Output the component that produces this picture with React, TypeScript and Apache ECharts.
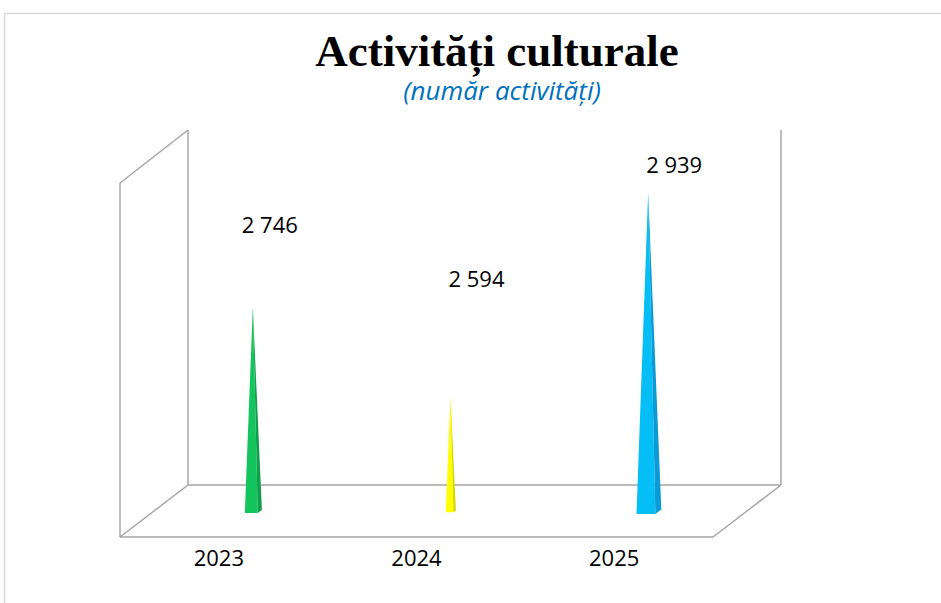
import React, { useEffect, useRef } from "react";
import * as echarts from "echarts";

const TITLE = "Activități culturale";
const SUBTITLE = "(număr activități)";
const CATEGORIES = ["2023", "2024", "2025"];
const VALUES = [2746, 2594, 2939];
const FRONT_COLORS = ["#14C45C", "#FFFF00", "#05BEF5"];
const SIDE_COLORS = ["#0FA04A", "#D6D600", "#0A9BD6"];
const Y_MIN = 2400;
const Y_MAX = 3000;
// label nudges (layout only): offset of the value label from the pyramid apex
const LABEL_DX = [17, 26, 26];
const LABEL_DY = [-83, -118, -29];

// 3D frame geometry
const FL = 120, FR = 713, BL = 188, BR = 781;
const FT = 183, BT = 130, FF = 537, BF = 485;
const W = 941, H = 603;

const fmt = (v: number) => String(v).replace(/\B(?=(\d{3})+(?!\d))/g, " ");

export default function App() {
  const ref = useRef<HTMLDivElement>(null);
  useEffect(() => {
    if (!ref.current) return;
    const chart = echarts.init(ref.current, undefined, { renderer: "svg" });
    const lineStyle = { stroke: "#a3a3a3", lineWidth: 1.4 };
    const seg = (x1: number, y1: number, x2: number, y2: number) => ({
      type: "line",
      z: 0,
      shape: { x1, y1, x2, y2 },
      style: lineStyle,
      silent: true,
    });
    const midL = (FL + BL) / 2, midR = (FR + BR) / 2;
    const midT = (FT + BT) / 2, midF = (FF + BF) / 2;
    chart.setOption({
      animation: false,
      backgroundColor: "#ffffff",
      title: [
        {
          text: TITLE,
          left: 492,
          top: 23,
          textAlign: "center",
          textStyle: {
            fontFamily: "Liberation Serif",
            fontWeight: "bold",
            fontSize: 45,
            color: "#000000",
          },
        },
        {
          text: SUBTITLE,
          left: 497,
          top: 72,
          textAlign: "center",
          textStyle: {
            fontFamily: "Open Sans",
            fontStyle: "italic",
            fontWeight: "normal",
            fontSize: 26,
            color: "#0070C0",
          },
        },
      ],
      graphic: [
        {
          type: "rect",
          z: 0,
          shape: { x: 4.5, y: 13.5, width: 1200, height: 1200 },
          style: { fill: "none", stroke: "#d9d9d9", lineWidth: 1.5 },
          silent: true,
        },
        seg(FL, FT, FL, FF),
        seg(BL, BT, BL, BF),
        seg(FL, FT, BL, BT),
        seg(FL, FF, BL, BF),
        seg(BL, BF, BR, BF),
        seg(BR, BT, BR, BF),
        seg(BR, BF, FR, FF),
        seg(FL, FF, FR, FF),
      ],
      grid: [
        { left: FL, top: FT, width: FR - FL, height: FF - FT },
        { left: midL, top: midT, width: midR - midL, height: midF - midT },
      ],
      xAxis: [
        {
          type: "category",
          gridIndex: 0,
          data: CATEGORIES,
          axisLine: { show: false },
          axisTick: { show: false },
          splitLine: { show: false },
          axisLabel: {
            margin: 9,
            fontFamily: "Open Sans",
            fontSize: 22,
            color: "#000000",
          },
        },
        { type: "category", gridIndex: 1, data: CATEGORIES, show: false },
      ],
      yAxis: [
        { type: "value", gridIndex: 0, min: Y_MIN, max: Y_MAX, show: false },
        { type: "value", gridIndex: 1, min: Y_MIN, max: Y_MAX, show: false },
      ],
      series: [
        {
          type: "custom",
          xAxisIndex: 1,
          yAxisIndex: 1,
          z: 10,
          data: VALUES.map((v, i) => [i, v]),
          renderItem: (params: any, api: any) => {
            const idx = api.value(0);
            const v = api.value(1);
            const top = api.coord([idx, v]);
            const base = api.coord([idx, Y_MIN]);
            const band = api.size([1, 0])[0];
            const w = band * 0.685 * (v - Y_MIN) / v;
            const x = top[0];
            const left = x - 0.47 * w;
            const frontR = left + 0.76 * w;
            const right = left + w;
            const yb = base[1] + 0.12 * w;
            const yr = base[1] - 0.06 * w;
            const i = params.dataIndex;
            return {
              type: "group",
              children: [
                {
                  type: "polygon",
                  shape: { points: [[left, yb], [frontR, yb], [x, top[1]]] },
                  style: { fill: FRONT_COLORS[i] },
                },
                {
                  type: "polygon",
                  shape: { points: [[frontR, yb], [right, yr], [x, top[1]]] },
                  style: { fill: SIDE_COLORS[i] },
                },
                {
                  type: "text",
                  x: x + LABEL_DX[i],
                  y: top[1] + LABEL_DY[i],
                  style: {
                    text: fmt(v),
                    align: "center",
                    verticalAlign: "middle",
                    fontFamily: "Open Sans",
                    fontSize: 22,
                    fill: "#000000",
                  },
                },
              ],
            };
          },
        },
      ],
    });
    return () => chart.dispose();
  }, []);
  return (
    <div
      ref={ref}
      style={{ position: "fixed", left: 0, top: 0, width: W, height: H }}
    />
  );
}
